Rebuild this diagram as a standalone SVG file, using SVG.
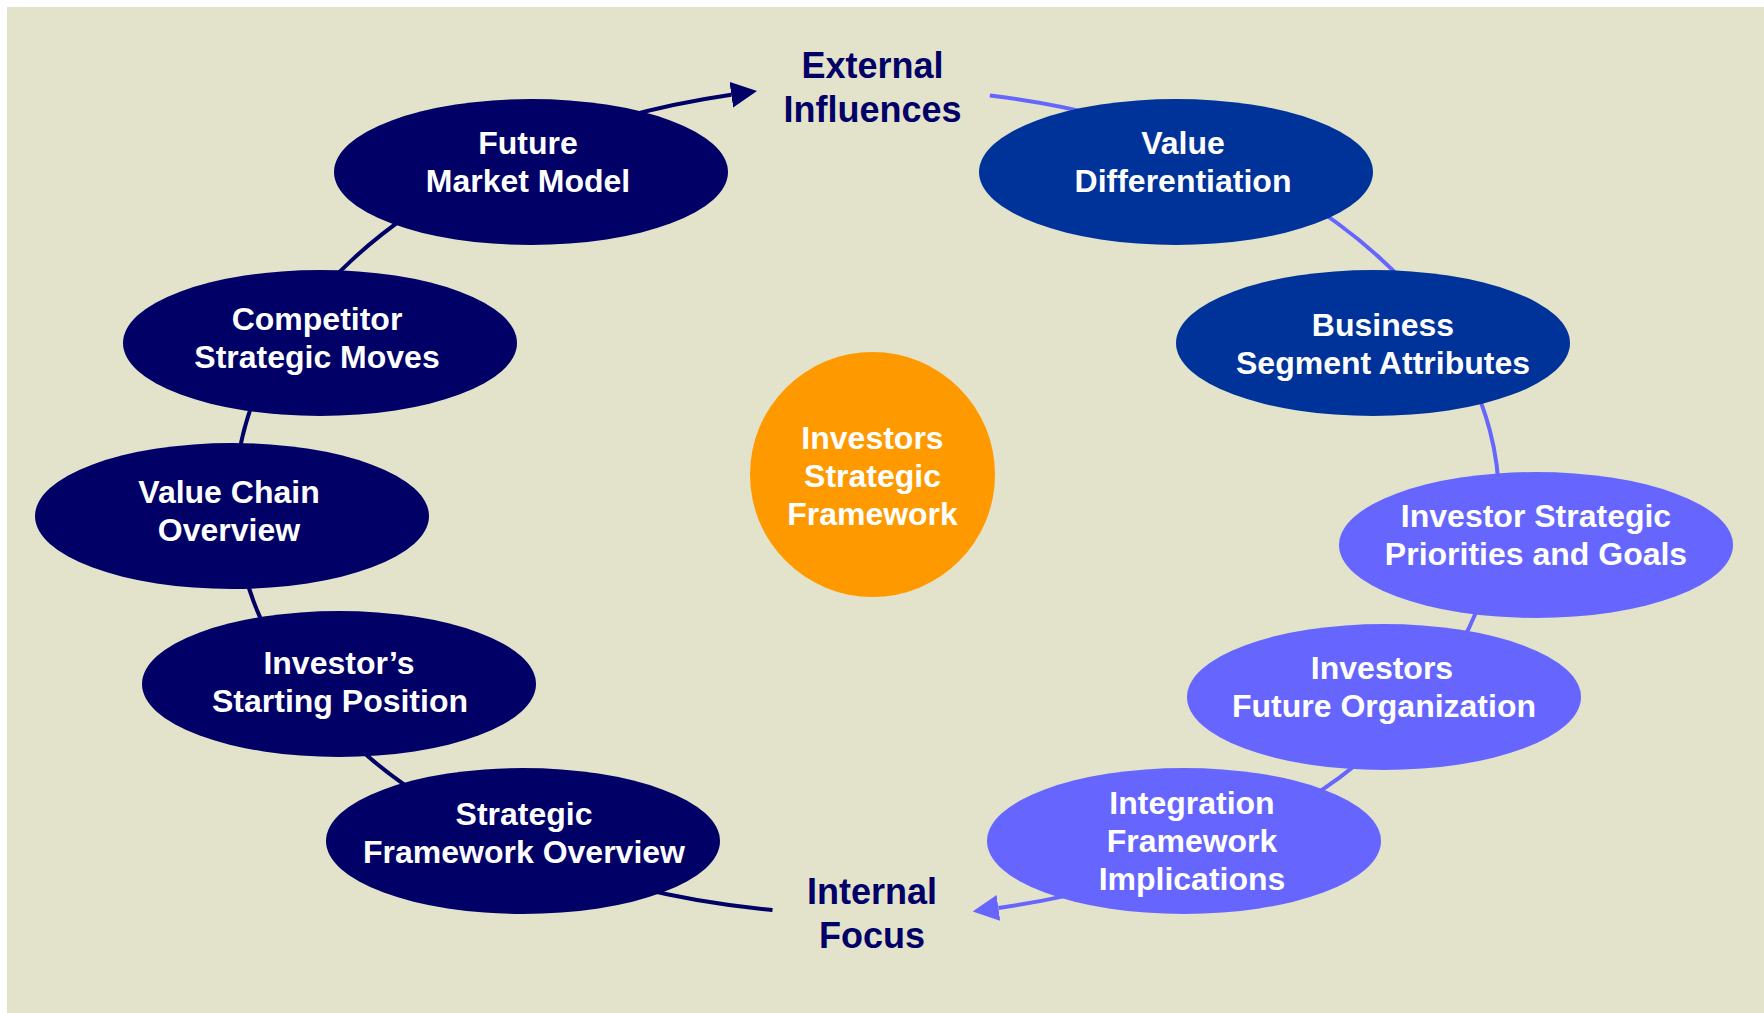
<svg xmlns="http://www.w3.org/2000/svg" width="1764" height="1013" viewBox="0 0 1764 1013">
<style>
.bg{fill:#E3E3CB}
.n1{fill:#000066}
.n2{fill:#003399}
.n3{fill:#6666FF}
.ctr{fill:#FF9900}
.t{font-family:"Liberation Sans",Arial,sans-serif;font-weight:bold;font-size:32px;fill:#FFFFFF;text-anchor:middle}
.lbl{font-family:"Liberation Sans",Arial,sans-serif;font-weight:bold;font-size:36px;fill:#000066;text-anchor:middle}
.cd{fill:none;stroke:#000066;stroke-width:4}
.cl{fill:none;stroke:#6666FF;stroke-width:4}
</style>
<defs>
<marker id="arrD" markerUnits="userSpaceOnUse" markerWidth="26" markerHeight="26" viewBox="0 0 26 26" refX="0" refY="13" orient="auto"><path d="M0,0 L26,13 L0,26 Z" fill="#000066"/></marker>
<marker id="arrL" markerUnits="userSpaceOnUse" markerWidth="26" markerHeight="26" viewBox="0 0 26 26" refX="0" refY="13" orient="auto"><path d="M0,0 L26,13 L0,26 Z" fill="#6666FF"/></marker>
</defs>
<rect class="bg" x="7" y="7" width="1757" height="1006"/>
<g id="connectors">
<path class="cd" d="M772.5,910 A632,416 0 0 1 516.3,847.1"/>
<path class="cd" d="M516.3,847.1 A632,416 0 0 1 308,695"/>
<path class="cd" d="M308,695 A632,416 0 0 1 235.4,515.5"/>
<path class="cd" d="M235.4,515.5 A632,416 0 0 1 288.3,333.8"/>
<path class="cd" d="M288.3,333.8 A632,416 0 0 1 514.6,155.7"/>
<path class="cd" d="M514.6,155.7 A632,416 0 0 1 731.3,94.7" marker-end="url(#arrD)"/>
<path class="cl" d="M989.8,95.5 A632,416 0 0 1 1199.1,147.1"/>
<path class="cl" d="M1199.1,147.1 A632,416 0 0 1 1437.9,322.6"/>
<path class="cl" d="M1437.9,322.6 A632,416 0 0 1 1495.9,542.3"/>
<path class="cl" d="M1495.9,542.3 A632,416 0 0 1 1414.9,708.4"/>
<path class="cl" d="M1414.9,708.4 A632,416 0 0 1 1197.7,855.5"/>
<path class="cl" d="M1197.7,855.5 A632,416 0 0 1 998.4,907.9" marker-end="url(#arrL)"/>
</g>
<g id="label-external"><text class="lbl" x="872.5" y="78">External</text><text class="lbl" x="872.5" y="122">Influences</text></g>
<g id="label-internal"><text class="lbl" x="872" y="904">Internal</text><text class="lbl" x="872" y="948">Focus</text></g>
<g id="center"><circle class="ctr" cx="872.5" cy="474.5" r="122.5"/><text class="t" x="872.5" y="449">Investors</text><text class="t" x="872.5" y="487">Strategic</text><text class="t" x="872.5" y="525">Framework</text></g>
<g id="future-market-model"><ellipse class="n1" cx="531" cy="172" rx="197" ry="73"/><text class="t" x="528" y="154">Future</text><text class="t" x="528" y="192">Market Model</text></g>
<g id="competitor-strategic-moves"><ellipse class="n1" cx="320" cy="343" rx="197" ry="73"/><text class="t" x="317" y="330">Competitor</text><text class="t" x="317" y="368">Strategic Moves</text></g>
<g id="value-chain-overview"><ellipse class="n1" cx="232" cy="516" rx="197" ry="73"/><text class="t" x="229" y="503">Value Chain</text><text class="t" x="229" y="541">Overview</text></g>
<g id="investors-starting-position"><ellipse class="n1" cx="339" cy="684" rx="197" ry="73"/><text class="t" x="339" y="674">Investor’s</text><text class="t" x="340" y="712">Starting Position</text></g>
<g id="strategic-framework-overview"><ellipse class="n1" cx="523" cy="841" rx="197" ry="73"/><text class="t" x="524" y="825">Strategic</text><text class="t" x="524" y="863">Framework Overview</text></g>
<g id="value-differentiation"><ellipse class="n2" cx="1176" cy="172" rx="197" ry="73"/><text class="t" x="1183" y="154">Value</text><text class="t" x="1183" y="192">Differentiation</text></g>
<g id="business-segment-attributes"><ellipse class="n2" cx="1373" cy="343" rx="197" ry="73"/><text class="t" x="1383" y="336">Business</text><text class="t" x="1383" y="374">Segment Attributes</text></g>
<g id="investor-strategic-priorities"><ellipse class="n3" cx="1536" cy="545" rx="197" ry="73"/><text class="t" x="1536" y="527">Investor Strategic</text><text class="t" x="1536" y="565">Priorities and Goals</text></g>
<g id="investors-future-organization"><ellipse class="n3" cx="1384" cy="697" rx="197" ry="73"/><text class="t" x="1382" y="679">Investors</text><text class="t" x="1384" y="717">Future Organization</text></g>
<g id="integration-framework-implications"><ellipse class="n3" cx="1184" cy="841" rx="197" ry="73"/><text class="t" x="1192" y="814">Integration</text><text class="t" x="1192" y="852">Framework</text><text class="t" x="1192" y="890">Implications</text></g>
</svg>
